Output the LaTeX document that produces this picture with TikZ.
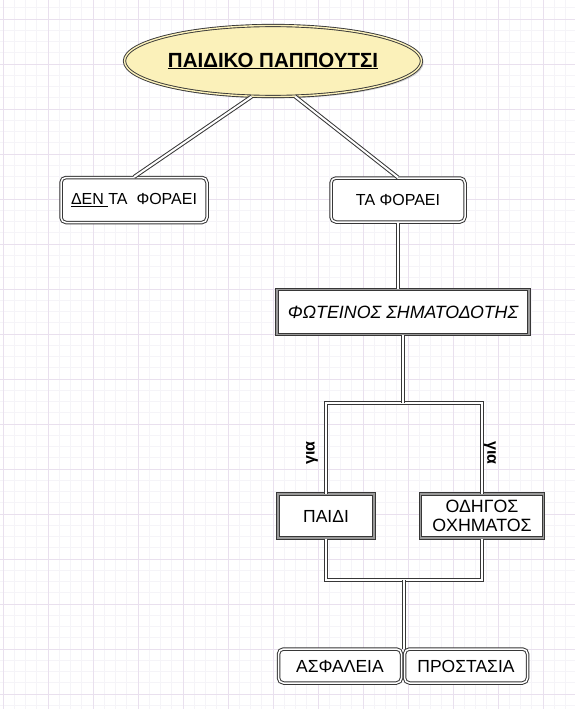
\documentclass[tikz,border=0pt]{standalone}
\usepackage{fontspec}
\setmainfont{Liberation Sans}
\usetikzlibrary{shapes.geometric,shadows,calc}
\definecolor{minorgrid}{RGB}{245,244,248}
\definecolor{majorgrid}{RGB}{233,224,238}
\definecolor{titlefill}{RGB}{251,241,186}
\definecolor{edgecol}{RGB}{55,55,55}
\tikzset{
  roundbox/.style={draw=edgecol, line width=1pt, double=white, double distance=1.5pt,
    rounded corners=5pt, fill=white, inner sep=0pt, font=\fontsize{17.5}{20}\selectfont},
  squarebox/.style={draw=edgecol, line width=1pt, double=black!40, double distance=1.2pt,
    fill=white, inner sep=0pt, font=\fontsize{17.5}{20}\selectfont, align=center},
  conn/.style={draw=edgecol, line width=1pt, double=white, double distance=2pt},
  gialabel/.style={font=\fontsize{16}{18}\selectfont\bfseries, inner sep=0pt}
}
\begin{document}
\begin{tikzpicture}[x=1pt,y=-1pt]
\useasboundingbox (0,0) rectangle (575,709);
\fill[white] (0,0) rectangle (575,709);
% grid
\foreach \i in {0,...,51} {
  \draw[minorgrid, line width=0.8pt] ({3+11.25*\i},0) -- ++(0,709);
}
\foreach \j in {0,...,63} {
  \draw[minorgrid, line width=0.8pt] (0,{19+11.25*\j-11.25}) -- ++(575,0);
}
\foreach \i in {0,...,12} {
  \draw[majorgrid, line width=0.9pt] ({3+45*\i},0) -- ++(0,709);
}
\foreach \j in {0,...,15} {
  \draw[majorgrid, line width=0.9pt] (0,{19+45*\j}) -- ++(575,0);
}

% nodes
\node[ellipse, draw=edgecol, line width=0.9pt, double=titlefill, double distance=1.4pt,
      fill=titlefill, minimum width=264, minimum height=71, inner sep=0pt,
      drop shadow={opacity=0.35, shadow xshift=2pt, shadow yshift=-2pt},
      font=\fontsize{20.5}{24}\selectfont\bfseries] (title) at (273,61)
      {\underline{ΠΑΙΔΙΚΟ ΠΑΠΠΟΥΤΣΙ}};

\node[roundbox, minimum width=146, minimum height=45, font=\fontsize{16}{19}\selectfont] (den) at (134,200)
      {\underline{ΔΕΝ\ }ΤΑ\ \ ΦΟΡΑΕΙ};
\node[roundbox, minimum width=134, minimum height=44, font=\fontsize{16}{19}\selectfont] (fora) at (398,200)
      {ΤΑ ΦΟΡΑΕΙ};
\node[squarebox, minimum width=252, minimum height=45, font=\fontsize{17.8}{20}\selectfont\itshape] (fot) at (403,312)
      {ΦΩΤΕΙΝΟΣ ΣΗΜΑΤΟΔΟΤΗΣ};
\node[squarebox, minimum width=96, minimum height=44] (paidi) at (326,516)
      {ΠΑΙΔΙ};
\node[squarebox, minimum width=123, minimum height=44, font=\fontsize{17.8}{19.5}\selectfont] (odigos) at (482,516)
      {ΟΔΗΓΟΣ\\ΟΧΗΜΑΤΟΣ};
\node[roundbox, minimum width=123, minimum height=34] (asf) at (340,666)
      {ΑΣΦΑΛΕΙΑ};
\node[roundbox, minimum width=123, minimum height=34] (prost) at (466,666)
      {ΠΡΟΣΤΑΣΙΑ};

\coordinate (split) at (403,403);
\coordinate (merge) at (404,580);

% connectors
\draw[conn] (title.239) -- (den.north);
\draw[conn] (title.302) -- (fora.north);
\draw[conn] (fora.south) -- (fora.south |- fot.north);
\draw[conn] (paidi.north) |- (split) -| (odigos.north);
\draw[conn] (fot.south) -- (split);
\draw[conn] (paidi.south) |- (merge) -| (odigos.south);
\draw[conn] (merge) -- (merge |- asf.north);

\node[gialabel, rotate=90] (gia1) at (312,453) {για};
\node[gialabel, rotate=-90] (gia2) at (490,453) {για};
\end{tikzpicture}
\end{document}
